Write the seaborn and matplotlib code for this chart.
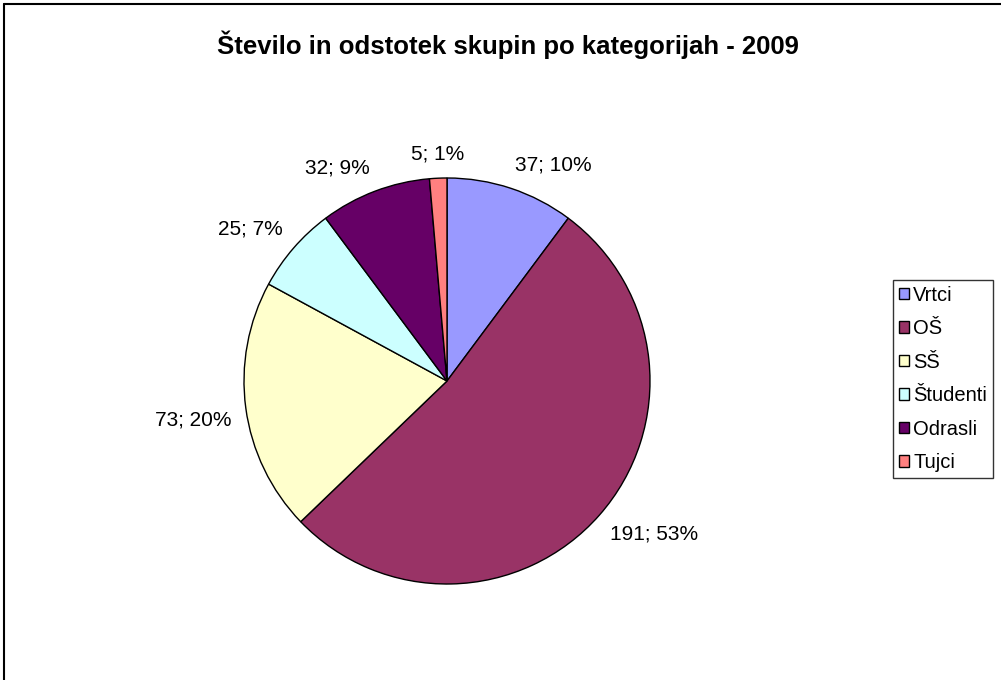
import numpy as np
import seaborn as sns
import matplotlib.pyplot as plt
from matplotlib.patches import Patch
from matplotlib.lines import Line2D

categories = ["Vrtci", "OŠ", "SŠ", "Študenti", "Odrasli", "Tujci"]
counts = [37, 191, 73, 25, 32, 5]
colors = ["#9999FF", "#993366", "#FFFFCC", "#CCFFFF", "#660066", "#FF8080"]
title = "Število in odstotek skupin po kategorijah - 2009"

sns.set_theme(style="white")
plt.rcParams["font.family"] = ["Liberation Sans", "DejaVu Sans"]
plt.rcParams["text.color"] = "black"

fig = plt.figure(figsize=(10.01, 6.8), dpi=100)
W, H = 1001, 680
cx, cy, r = 447, 381, 203
ax = fig.add_axes([(cx - r) / W, (H - cy - r) / H, 2 * r / W, 2 * r / H])

wedges, _ = ax.pie(counts, colors=colors, startangle=90, counterclock=False,
                   wedgeprops=dict(edgecolor="black", linewidth=1))
ax.set_xlim(-1, 1)
ax.set_ylim(-1, 1)
ax.set_aspect("auto")

total = sum(counts)
for w, n in zip(wedges, counts):
    ang = np.deg2rad((w.theta1 + w.theta2) / 2)
    c, s = np.cos(ang), np.sin(ang)
    ha = "left" if c > 0.1 else ("right" if c < -0.1 else "center")
    va = "bottom" if s > 0.1 else ("top" if s < -0.1 else "center")
    ax.text(1.07 * c, 1.07 * s, f"{n}; {round(100 * n / total)}%",
            ha=ha, va=va, fontsize=15, color="black", clip_on=False)

fig.text(508 / W, 1 - 45 / H, title, ha="center", va="center",
         fontsize=18.5, fontweight="bold", color="black")

handles = [Patch(facecolor=col, edgecolor="black", linewidth=1) for col in colors]
leg = fig.legend(handles, categories, loc="center left",
                 bbox_to_anchor=(893 / W, 1 - 379 / H), frameon=True,
                 fancybox=False, edgecolor="black", fontsize=14.5,
                 handlelength=0.5, handleheight=0.5, handletextpad=0.2,
                 labelspacing=0.72, borderpad=0.3, borderaxespad=0)
leg.get_frame().set_linewidth(1)
for t in leg.get_texts():
    t.set_color("black")

fig.add_artist(Line2D([4 / W, 4 / W], [0, 1 - 4 / H], color="black", lw=1.5))
fig.add_artist(Line2D([4 / W, 1], [1 - 4 / H, 1 - 4 / H], color="black", lw=1.5))

fig.savefig("out.png", dpi=100)
